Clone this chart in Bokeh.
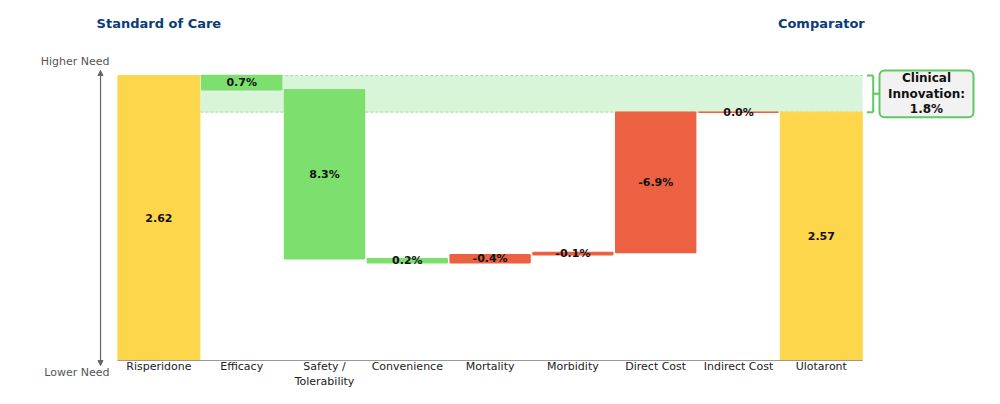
from bokeh.plotting import figure
from bokeh.models import ColumnDataSource, Range1d, Arrow, NormalHead
from bokeh.core.properties import value
from bokeh.embed import file_html
from bokeh.resources import INLINE

# ---- data ----
categories = ["Risperidone", "Efficacy", "Safety /\nTolerability", "Convenience",
              "Mortality", "Morbidity", "Direct Cost", "Indirect Cost", "Ulotaront"]
start_label = "Standard of Care"
end_label = "Comparator"
start_score = 2.62
end_score = 2.57
step_values = [0.7, 8.3, 0.2, -0.4, -0.1, -6.9, 0.0]   # % change in need
axis_top_label = "Higher Need"
axis_bottom_label = "Lower Need"

# ---- layout constants ----
DEPTH = 14.0          # visual depth of the reference bar (in % units)
FONT = value("DejaVu Sans")
YELLOW = "#FDD64B"
GREEN = "#7DDF6E"
RED = "#EB6141"

innovation = round(sum(step_values), 1)

# cumulative levels (downwards = lower need)
levels = [0.0]
for v in step_values:
    levels.append(levels[-1] - v)

step_x = list(range(1, len(step_values) + 1))
step_top = [max(levels[i], levels[i + 1]) for i in range(len(step_values))]
step_bot = [min(levels[i], levels[i + 1]) for i in range(len(step_values))]
step_col = [GREEN if v > 0 else RED for v in step_values]
step_txt = [f"{v:.1f}%" for v in step_values]
step_mid = [(a + b) / 2 for a, b in zip(step_top, step_bot)]

end_x = [0, len(categories) - 1]
end_top = [0.0, -innovation]
end_bot = [-DEPTH, -DEPTH]
end_txt = [f"{start_score:.2f}", f"{end_score:.2f}"]
end_mid = [(a + b) / 2 for a, b in zip(end_top, end_bot)]

p = figure(width=984, height=388, output_backend="svg", toolbar_location=None,
           x_range=Range1d(-1.913, 9.971), y_range=Range1d(-15.376, 3.684),
           min_border=0)
p.axis.visible = False
p.grid.visible = False
p.outline_line_color = None

# innovation band
p.quad(left=[0.5], right=[len(categories) - 0.5], top=[0.0], bottom=[-innovation],
       fill_color="#D9F5D9", line_color=None)
p.segment(x0=[0.5, 0.5], x1=[len(categories) - 0.5] * 2, y0=[0.0, -innovation],
          y1=[0.0, -innovation], line_color="#9EDE9E", line_dash="3 2", line_width=1)

# end bars
src_end = ColumnDataSource(dict(x=end_x, top=end_top, bottom=end_bot, txt=end_txt, mid=end_mid))
p.vbar(x="x", top="top", bottom="bottom", width=0.99, source=src_end,
       fill_color=YELLOW, line_color=YELLOW, line_width=1)
# step bars
src_step = ColumnDataSource(dict(x=step_x, top=step_top, bottom=step_bot, color=step_col,
                                 txt=step_txt, mid=step_mid))
p.vbar(x="x", top="top", bottom="bottom", width=0.965, source=src_step,
       fill_color="color", line_color="color", line_width=1.5)

# baseline
p.segment(x0=[-0.5], x1=[len(categories) - 0.5], y0=[-DEPTH], y1=[-DEPTH],
          line_color="#999999", line_width=1.2)

# value labels
for src in (src_end, src_step):
    p.text(x="x", y="mid", text="txt", source=src, text_font=FONT,
           text_font_size="11px", text_font_style="bold", text_color="#111111",
           text_align="center", text_baseline="middle")

# category labels
p.text(x=list(range(len(categories))), y=[-DEPTH] * len(categories), text=categories,
       text_font=FONT, text_font_size="11px", text_color="#222222",
       text_align="center", text_baseline="top", text_line_height=1.12)

# titles
p.text(x=end_x, y=[2.554, 2.554], text=[start_label, end_label], text_font=FONT,
       text_font_size="13px", text_font_style="bold", text_color="#0B3C78",
       text_align="center", text_baseline="middle")

# need axis arrow
p.add_layout(Arrow(x_start=-0.705, y_start=-14.246, x_end=-0.705, y_end=0.2456,
                   line_color="#666666", line_width=1.2,
                   start=NormalHead(size=5, fill_color="#666666", line_color="#666666"),
                   end=NormalHead(size=5, fill_color="#666666", line_color="#666666")))
p.text(x=[-0.597, -0.597], y=[0.688, -14.59], text=[axis_top_label, axis_bottom_label],
       text_font=FONT, text_font_size="11px", text_color="#555555",
       text_align="right", text_baseline="middle")

# bracket + callout
bx0, bx1, bx2 = 8.552, 8.627, 8.703
p.segment(x0=[bx0, bx0, bx1, bx1], x1=[bx1, bx1, bx1, bx2],
          y0=[0.0, -innovation, 0.0, -innovation / 2],
          y1=[0.0, -innovation, -innovation, -innovation / 2],
          line_color="#5EC95E", line_width=2)
p.quad(left=[bx2], right=[9.838], top=[0.2456], bottom=[-2.048],
       fill_color="#F2F2F2", line_color="#5EC95E", line_width=2, border_radius=5)
p.text(x=[(bx2 + 9.838) / 2], y=[-innovation / 2], text=[f"Clinical\nInnovation:\n{innovation:.1f}%"],
       text_font=FONT, text_font_size="12px", text_font_style="bold", text_color="#111111",
       text_align="center", text_baseline="middle", text_line_height=1.12)

open("out.html", "w").write(file_html(p, INLINE))
